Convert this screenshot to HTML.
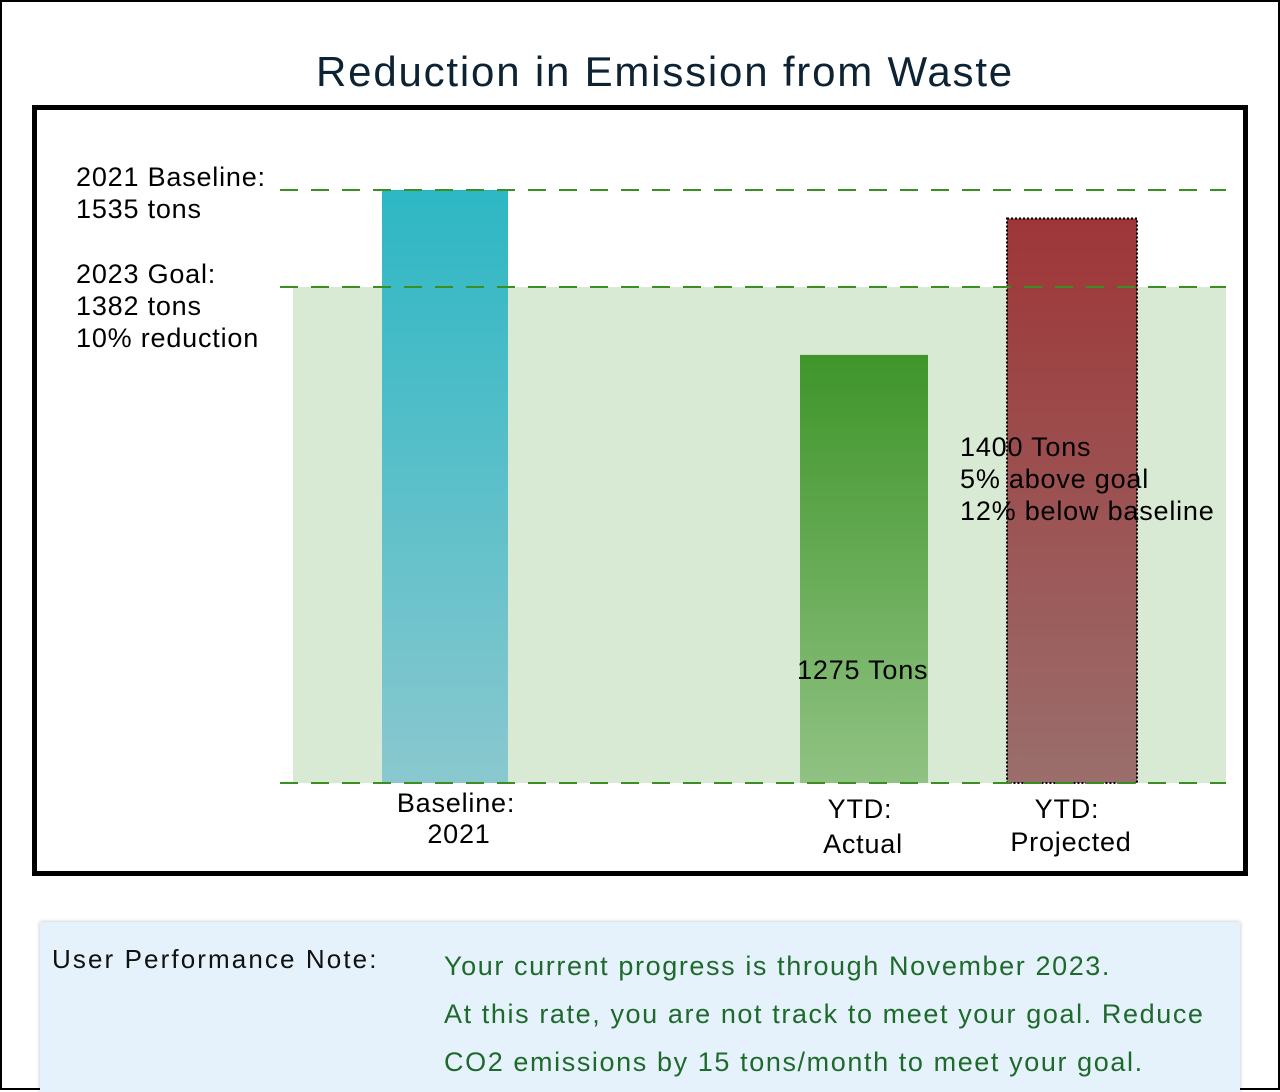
<!DOCTYPE html>
<html><head><meta charset="utf-8"><style>
body{margin:0;width:1280px;height:1090px;overflow:hidden;background:#fff;font-family:"Liberation Sans",sans-serif}
#page{position:absolute;left:0;top:0;width:1276px;height:1086px;border:2px solid #000}
.t{position:absolute;white-space:nowrap}
</style></head><body>
<div id="page"></div>
<div class="t" style="left:0;width:1330px;text-align:center;top:48px;font-size:42px;letter-spacing:1.8px;color:#0d2233">Reduction in Emission from Waste</div>
<svg width="1280" height="1090" style="position:absolute;left:0;top:0">
<defs>
<linearGradient id="gb" x1="0" y1="0" x2="0" y2="1"><stop offset="0" stop-color="#2db7c4"/><stop offset="1" stop-color="#8ac8cf"/></linearGradient>
<linearGradient id="gg" x1="0" y1="0" x2="0" y2="1"><stop offset="0" stop-color="#3f952a"/><stop offset="1" stop-color="#90c283"/></linearGradient>
<linearGradient id="gr" x1="0" y1="0" x2="0" y2="1"><stop offset="0" stop-color="#9e3638"/><stop offset="1" stop-color="#9a6e6c"/></linearGradient>
</defs>
<rect x="34.5" y="107.5" width="1211" height="766" fill="none" stroke="#000" stroke-width="5"/>
<g id="marks"></g>
<g font-size="27" fill="#000" font-family="Liberation Sans, sans-serif" letter-spacing="0.8">
<text x="76" y="186">2021 Baseline:</text>
<text x="76" y="218">1535 tons</text>
<text x="76" y="283">2023 Goal:</text>
<text x="76" y="315">1382 tons</text>
<text x="76" y="347">10% reduction</text>
<text x="797" y="679">1275 Tons</text>
<text x="960" y="456">1400 Tons</text>
<text x="960" y="488">5% above goal</text>
<text x="960" y="520">12% below baseline</text>
<g text-anchor="middle">
<text x="456" y="812">Baseline:</text>
<text x="459" y="843">2021</text>
<text x="860" y="818">YTD:</text>
<text x="863" y="853">Actual</text>
<text x="1067" y="818">YTD:</text>
<text x="1071" y="851">Projected</text>
</g></g>
</svg>
<div style="position:absolute;left:40px;top:922px;width:1200px;height:170px;background:#e6f2fb;box-shadow:0 0 4px rgba(0,0,0,.25)">
<div class="t" style="left:12px;top:22px;font-size:26px;letter-spacing:2.1px;color:#111">User Performance Note:</div>
<div class="t" style="left:404px;top:20px;font-size:27px;letter-spacing:1.6px;line-height:48px;color:#1e6a2c">Your current progress is through November 2023.<br>At this rate, you are not track to meet your goal. Reduce<br>CO2 emissions by 15 tons/month to meet your goal.</div>
</div>
<script>
const categories=["Baseline 2021","YTD Actual","YTD Projected"];
const values=[1535,1275,1490];
const goalValue=1382;
const baselineValue=1535;
const domainMin=600;
const yTop=190,yBot=783,plotL=280,plotR=1226;
function y(v){return yBot-(v-domainMin)/(baselineValue-domainMin)*(yBot-yTop);}
const barX=[382,800,1007],barW=[126,128,130],fills=["url(#gb)","url(#gg)","url(#gr)"];
const ns="http://www.w3.org/2000/svg",g=document.getElementById('marks');
function mk(t,a){const e=document.createElementNS(ns,t);for(const k in a)e.setAttribute(k,a[k]);g.appendChild(e);return e;}
let band=mk('rect',{x:293,y:y(goalValue),width:933,height:yBot-y(goalValue),fill:'#d8e9d4'});


values.forEach((v,i)=>{
 const r=mk('rect',{x:barX[i],y:y(v),width:barW[i],height:yBot-y(v),fill:fills[i]});
 if(i==2){r.setAttribute('stroke','#000');r.setAttribute('stroke-width','2');r.setAttribute('stroke-dasharray','2 2');}
 
 
});
[[baselineValue,'baseline-line'],[goalValue,'goal-line'],[domainMin,'bottom-line']].forEach(([v,n])=>{
 const l=mk('line',{x1:plotL,x2:plotR,y1:y(v),y2:y(v),stroke:'#3a8e22','stroke-width':2,'stroke-dasharray':'18 13'});
 
 
});
</script>
</body></html>
